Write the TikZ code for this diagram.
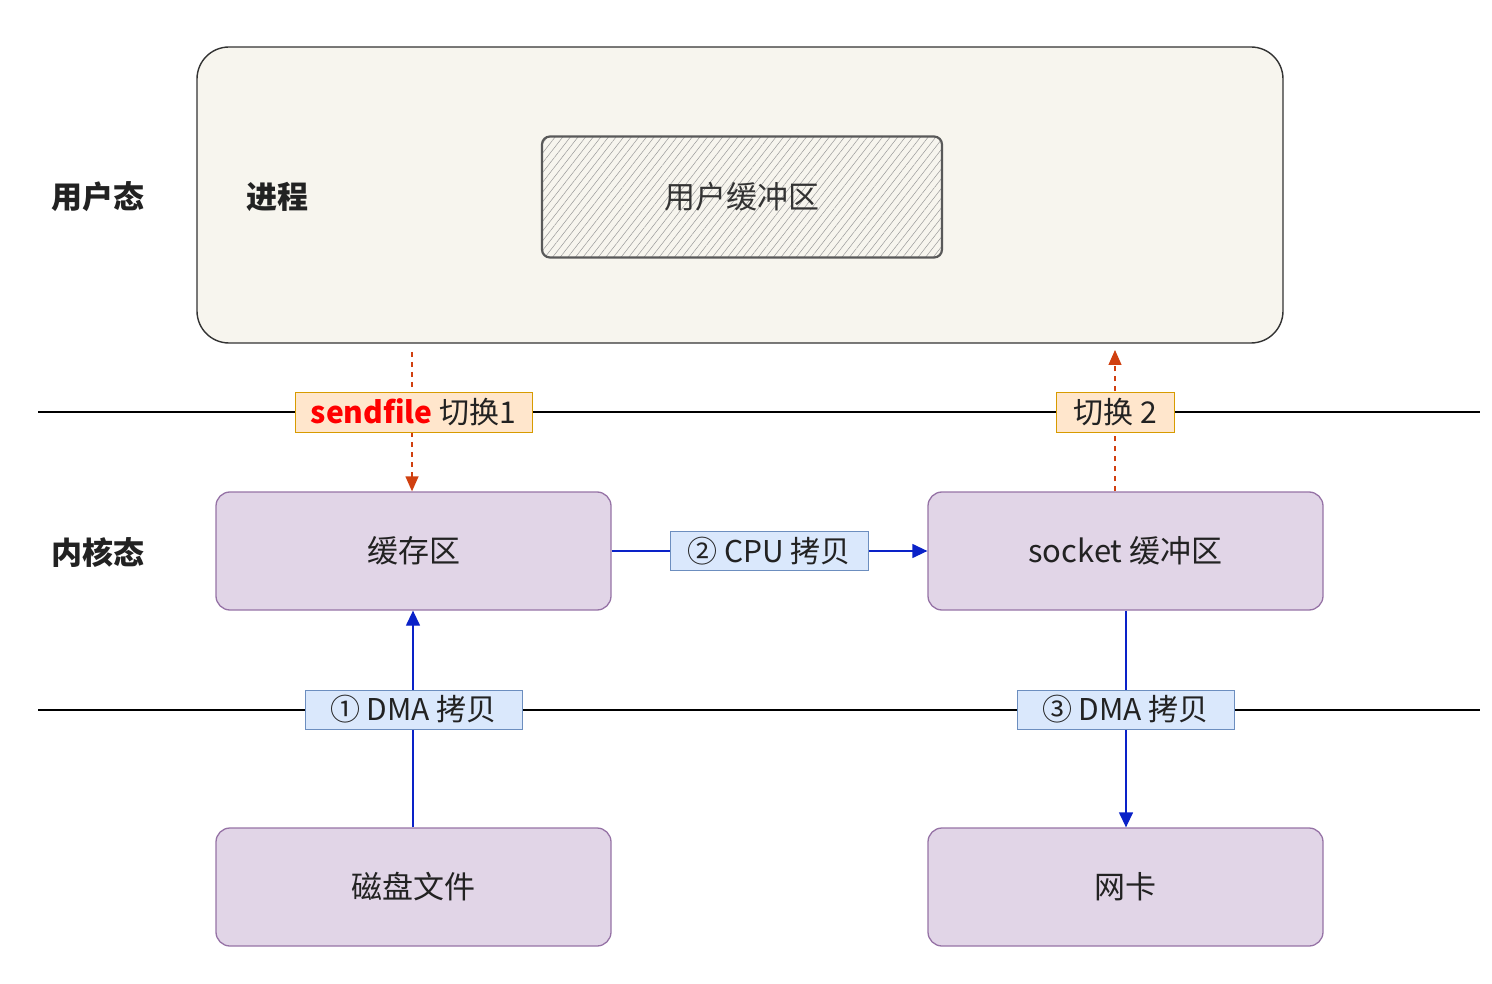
\documentclass[tikz,border=0pt]{standalone}
\usepackage{fontspec}
\setmainfont{Noto Sans CJK SC}
\usetikzlibrary{arrows.meta,decorations.pathmorphing,patterns.meta}
\definecolor{cream}{HTML}{F7F5EE}
\definecolor{pfill}{HTML}{E1D5E7}
\definecolor{pdraw}{HTML}{9673A6}
\definecolor{ofill}{HTML}{FFE6CC}
\definecolor{odraw}{HTML}{D79B00}
\definecolor{bfill}{HTML}{DAE8FC}
\definecolor{bdraw}{HTML}{6C8EBF}
\definecolor{arrblue}{HTML}{0A22C8}
\definecolor{arrred}{HTML}{D04010}
\definecolor{txt}{HTML}{222222}
\tikzset{
  pbox/.style={draw=pdraw,line width=1.3pt,fill=pfill,rounded corners=14pt,minimum width=395pt,minimum height=118pt,inner sep=0pt,text=txt,font=\fontsize{31}{36}\selectfont},
  obox/.style={draw=odraw,line width=1pt,fill=ofill,minimum height=39pt,inner sep=0pt,text=txt,font=\fontsize{30}{36}\selectfont},
  bbox/.style={draw=bdraw,line width=1pt,fill=bfill,minimum height=39pt,inner sep=0pt,text=txt,font=\fontsize{30}{36}\selectfont},
  lbl/.style={text=txt,font=\bfseries\fontsize{31}{36}\selectfont},
  barrow/.style={draw=arrblue,line width=1.3pt,-{Triangle[length=15pt,width=14pt]}},
  rarrow/.style={draw=arrred,line width=1.3pt,dash pattern=on 5pt off 5pt,-{Triangle[length=15pt,width=13pt]}},
  layer/.style={draw=black,line width=1.1pt}
}
\begin{document}
\begin{tikzpicture}[x=1pt,y=-1pt]
\useasboundingbox (0,0) rectangle (1492,984);
% user space box
\node[draw=black!80,line width=1.4pt,fill=cream,rounded corners=32pt,minimum width=1086pt,minimum height=296pt,inner sep=0pt] (proc) at (740,195) {};
\node[draw=black!65,line width=2.2pt,rounded corners=8pt,pattern={Lines[angle=52,distance=6pt,line width=0.5pt]},pattern color=black!40,minimum width=400pt,minimum height=121pt,inner sep=0pt] (ubuf) at (742,197) {};
\node[text=black!80,font=\fontsize{31}{36}\selectfont] at (ubuf.center) {用户缓冲区};
\node[lbl] (ustate) at (98,197) {用户态};
\node[lbl] (proclbl) at (277,197) {进程};
\node[lbl] (kstate) at (98,553) {内核态};
% layer lines
\coordinate (l1a) at (38,412); \coordinate (l1b) at (1480,412);
\coordinate (l2a) at (38,710); \coordinate (l2b) at (1480,710);
\draw[layer] (l1a) -- (l1b);
\draw[layer] (l2a) -- (l2b);
% kernel boxes
\node[pbox] (cache) at (413.5,551) {缓存区};
\node[pbox] (sock) at (1125.5,551) {socket 缓冲区};
\node[pbox] (disk) at (413.5,887) {磁盘文件};
\node[pbox] (nic) at (1125.5,887) {网卡};
% switch arrows
\coordinate (s1top) at (412,352);
\coordinate (s2top) at (1115,350);
\draw[rarrow] (s1top) -- (cache.north -| s1top);
\draw[rarrow] (sock.north -| s2top) -- (s2top);
\node[obox,minimum width=237pt] (sw1) at (413.5,412.5) {{\color{red}\bfseries sendfile} 切换1};
\node[obox,minimum width=118pt] (sw2) at (1115,412.5) {切换 2};
% copy arrows
\draw[barrow] (cache.east) -- (sock.west);
\draw[barrow] (disk.north -| 413,0) -- (cache.south -| 413,0);
\draw[barrow] (sock.south -| 1126,0) -- (nic.north -| 1126,0);
\node[bbox,minimum width=198pt] (cpu) at (769,551) {② CPU 拷贝};
\node[bbox,minimum width=217pt] (dma1) at (413.5,709.5) {① DMA 拷贝};
\node[bbox,minimum width=217pt] (dma3) at (1125.5,709.5) {③ DMA 拷贝};
\end{tikzpicture}
\end{document}
